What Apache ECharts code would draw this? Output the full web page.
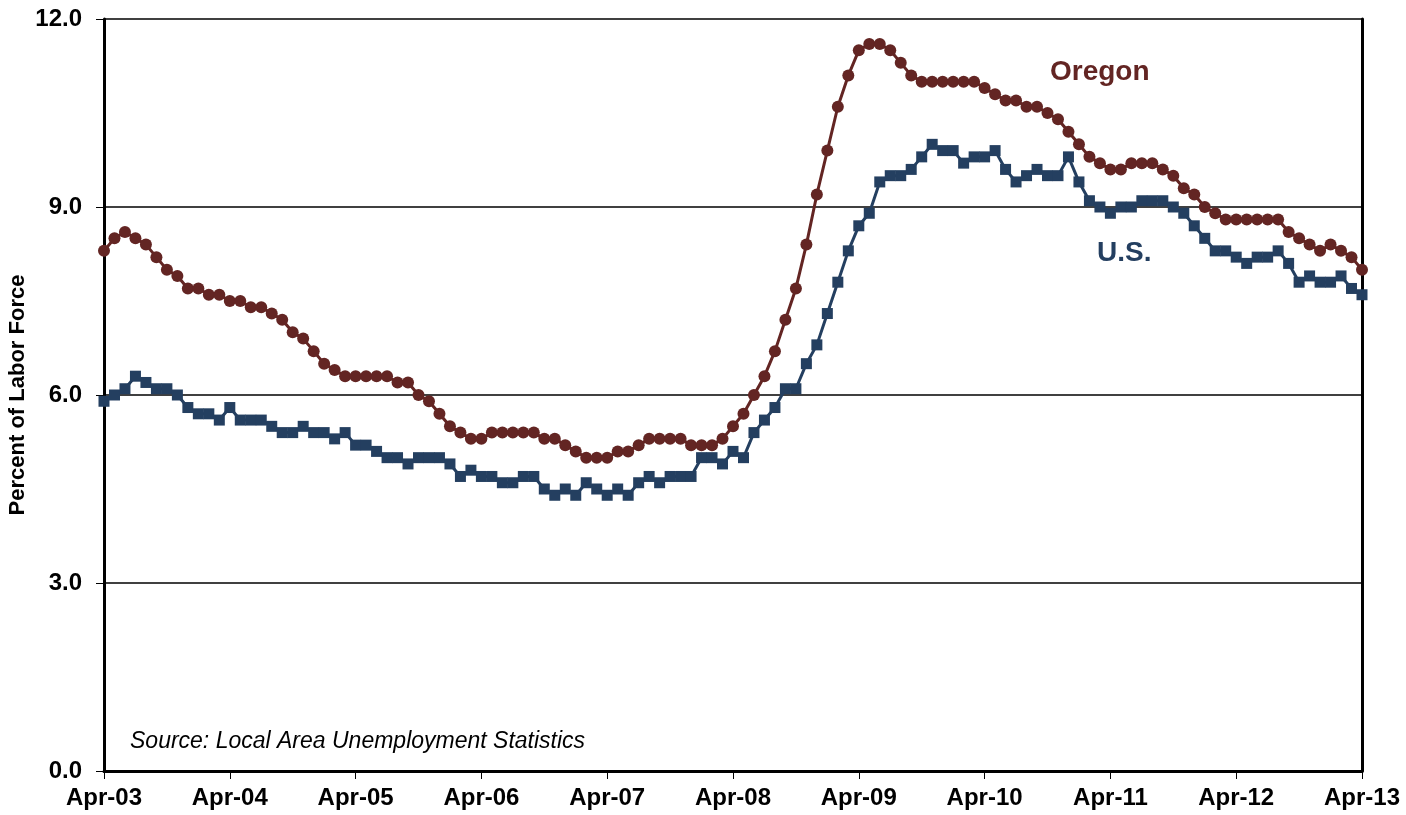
<!DOCTYPE html>
<html>
<head>
<meta charset="utf-8">
<script src="https://cdn.jsdelivr.net/npm/echarts@6/dist/echarts.min.js"></script>
<style>
html,body{margin:0;padding:0;background:#fff;}
#chart{width:1406px;height:815px;}
</style>
</head>
<body>
<div id="chart"></div>
<script>
// Month names used to build the 121 monthly categories (Apr-03 .. Apr-13)
const monthNames = ['Jan','Feb','Mar','Apr','May','Jun','Jul','Aug','Sep','Oct','Nov','Dec'];
const startYear = 2003, startMonth = 3, monthCount = 121;

// Tick labels shown on the x axis
const tickLabels = ['Apr-03','Apr-04','Apr-05','Apr-06','Apr-07','Apr-08','Apr-09','Apr-10','Apr-11','Apr-12','Apr-13'];

// Y axis ticks
const yTicks = [0, 3, 6, 9, 12];

// Oregon unemployment rate (%), monthly Apr-03 .. Apr-13
const oregon = [
  8.3,8.5,8.6,8.5,8.4,8.2,8.0,7.9,7.7,7.7,7.6,7.6,
  7.5,7.5,7.4,7.4,7.3,7.2,7.0,6.9,6.7,6.5,6.4,6.3,
  6.3,6.3,6.3,6.3,6.2,6.2,6.0,5.9,5.7,5.5,5.4,5.3,
  5.3,5.4,5.4,5.4,5.4,5.4,5.3,5.3,5.2,5.1,5.0,5.0,
  5.0,5.1,5.1,5.2,5.3,5.3,5.3,5.3,5.2,5.2,5.2,5.3,
  5.5,5.7,6.0,6.3,6.7,7.2,7.7,8.4,9.2,9.9,10.6,11.1,
  11.5,11.6,11.6,11.5,11.3,11.1,11.0,11.0,11.0,11.0,11.0,11.0,
  10.9,10.8,10.7,10.7,10.6,10.6,10.5,10.4,10.2,10.0,9.8,9.7,
  9.6,9.6,9.7,9.7,9.7,9.6,9.5,9.3,9.2,9.0,8.9,8.8,
  8.8,8.8,8.8,8.8,8.8,8.6,8.5,8.4,8.3,8.4,8.3,8.2,
  8.0
];

// U.S. unemployment rate (%), monthly Apr-03 .. Apr-13
const us = [
  5.9,6.0,6.1,6.3,6.2,6.1,6.1,6.0,5.8,5.7,5.7,5.6,
  5.8,5.6,5.6,5.6,5.5,5.4,5.4,5.5,5.4,5.4,5.3,5.4,
  5.2,5.2,5.1,5.0,5.0,4.9,5.0,5.0,5.0,4.9,4.7,4.8,
  4.7,4.7,4.6,4.6,4.7,4.7,4.5,4.4,4.5,4.4,4.6,4.5,
  4.4,4.5,4.4,4.6,4.7,4.6,4.7,4.7,4.7,5.0,5.0,4.9,
  5.1,5.0,5.4,5.6,5.8,6.1,6.1,6.5,6.8,7.3,7.8,8.3,
  8.7,8.9,9.4,9.5,9.5,9.6,9.8,10.0,9.9,9.9,9.7,9.8,
  9.8,9.9,9.6,9.4,9.5,9.6,9.5,9.5,9.8,9.4,9.1,9.0,
  8.9,9.0,9.0,9.1,9.1,9.1,9.0,8.9,8.7,8.5,8.3,8.3,
  8.2,8.1,8.2,8.2,8.3,8.1,7.8,7.9,7.8,7.8,7.9,7.7,
  7.6
];

const categories = [];
for (let k = 0; k < monthCount; k++) {
  const m = (startMonth + k) % 12;
  const y = startYear + Math.floor((startMonth + k) / 12);
  categories.push(monthNames[m] + '-' + String(y % 100).padStart(2, '0'));
}
const tickSet = new Set(tickLabels);

const chart = echarts.init(document.getElementById('chart'), null, {renderer: 'canvas'});
const FONT = 'Liberation Sans, Arial, sans-serif';
chart.setOption({
  animation: false,
  backgroundColor: '#ffffff',
  grid: {left: 104, right: 44, top: 19, bottom: 44, containLabel: false, outerBoundsMode: 'none'},
  xAxis: {
    type: 'category',
    data: categories,
    boundaryGap: false,
    axisLine: {show: true, lineStyle: {color: '#000', width: 3}},
    axisTick: {show: true, length: 8, interval: (i, v) => tickSet.has(v), lineStyle: {color: '#000', width: 1}},
    axisLabel: {
      interval: (i, v) => tickSet.has(v),
      color: '#000', fontFamily: FONT, fontWeight: 'bold', fontSize: 24, margin: 15
    },
    splitLine: {show: false}
  },
  yAxis: [{
    type: 'value',
    min: yTicks[0], max: yTicks[yTicks.length - 1], interval: 3,
    name: 'Percent of Labor Force',
    nameLocation: 'middle',
    nameGap: 75,
    nameMoveOverlap: false,
    nameTextStyle: {color: '#000', fontFamily: FONT, fontWeight: 'bold', fontSize: 22},
    axisLine: {show: true, lineStyle: {color: '#000', width: 3}},
    axisTick: {show: true, length: 8, lineStyle: {color: '#000', width: 1}},
    axisLabel: {
      color: '#000', fontFamily: FONT, fontWeight: 'bold', fontSize: 24, margin: 22,
      formatter: v => v.toFixed(1)
    },
    splitLine: {show: true, lineStyle: {color: '#000', width: 1.5}}
  }, {
    type: 'value',
    position: 'right',
    min: yTicks[0], max: yTicks[yTicks.length - 1], interval: 3,
    axisLine: {show: true, lineStyle: {color: '#000', width: 3}},
    axisTick: {show: false},
    axisLabel: {show: false},
    splitLine: {show: false}
  }],
  series: [{
    name: 'U.S.',
    type: 'line',
    data: us,
    symbol: 'rect',
    symbolSize: 11,
    showAllSymbol: true,
    lineStyle: {color: '#243F60', width: 3},
    itemStyle: {color: '#243F60'}
  }, {
    name: 'Oregon',
    type: 'line',
    data: oregon,
    symbol: 'circle',
    symbolSize: 12,
    showAllSymbol: true,
    lineStyle: {color: '#632523', width: 3},
    itemStyle: {color: '#632523'}
  }],
  graphic: [{
    type: 'text', left: 1050, top: 58,
    style: {text: 'Oregon', fill: '#632523', font: 'bold 28px ' + FONT}
  }, {
    type: 'text', left: 1097, top: 239,
    style: {text: 'U.S.', fill: '#243F60', font: 'bold 28px ' + FONT}
  }, {
    type: 'text', left: 130, top: 730,
    style: {text: 'Source: Local Area Unemployment Statistics', fill: '#000', font: 'italic 23px ' + FONT}
  }]
});
</script>
</body>
</html>
